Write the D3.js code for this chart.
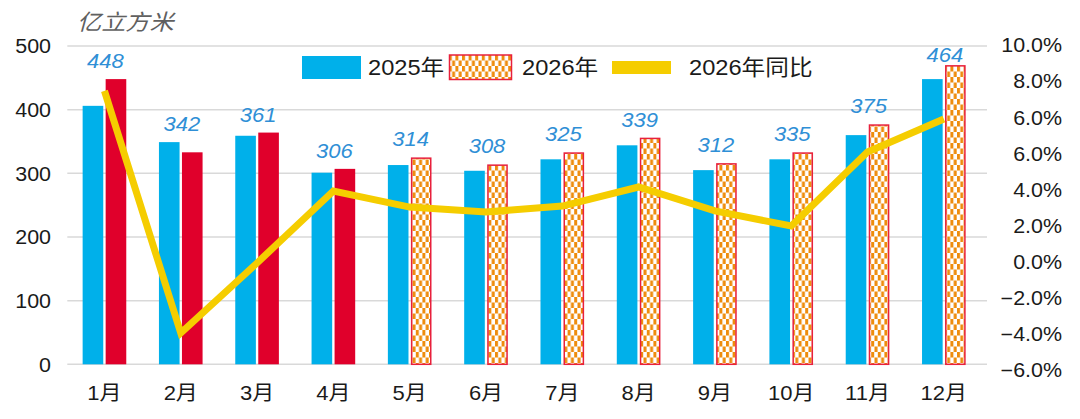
<!DOCTYPE html>
<html>
<head>
<meta charset="utf-8">
<script src="https://cdn.jsdelivr.net/npm/d3@7"></script>
<style>
  html, body { margin: 0; padding: 0; background: #fff; }
  text { font-family: "Liberation Sans", "Noto Sans CJK SC", sans-serif; }
</style>
</head>
<body>
<div id="chart"></div>
<script>
// data
const months = ["1月", "2月", "3月", "4月", "5月", "6月", "7月", "8月", "9月", "10月", "11月", "12月"];
const vol2025 = [406, 349, 359, 301, 313, 304, 322, 344, 305, 322, 360, 448];
const vol2026 = [448, 333, 364, 307, 325, 314, 333, 356, 316, 333, 377, 470];
const actualMonths = 4; // first 4 months solid, the rest hatched (forecast)
const valueLabels = ["448", "342", "361", "306", "314", "308", "325", "339", "312", "335", "375", "464"];
const yoy2026 = [7.74, -4.18, -0.73, 2.81, 2.02, 1.78, 2.07, 3.01, 1.83, 1.09, 4.73, 6.36];
const leftTicks = [0, 100, 200, 300, 400, 500];
const rightTickLabels = ["10.0%", "8.0%", "6.0%", "6.0%", "4.0%", "2.0%", "0.0%", "−2.0%", "−4.0%", "−6.0%"];
const seriesNames = ["2025年", "2026年", "2026年同比"];

const width = 1080, height = 419;
const SX = 1.1; // the source picture is a little stretched sideways

const BLUE = "#00b0ea", RED = "#e0002b", ORANGE = "#ee8c0c", YELLOW = "#f5cd00";

const svg = d3.select("#chart").append("svg")
    .attr("width", width)
    .attr("height", height);

const plotTop = 46, plotBottom = 364.3, plotLeft = 66.3, plotRight = 982;

// scales
const x = d3.scaleBand().domain(months).range([plotLeft, plotRight]);
const xs = d3.scaleBand().domain(["a", "b"]).range([0, x.bandwidth()])
    .paddingInner(0.104).paddingOuter(0.71);
const y = d3.scaleLinear().domain([0, 500]).range([plotBottom, plotTop]);
const y2 = d3.scaleLinear().domain([-6, 10]).range([plotBottom + 5.7, plotTop - 1]);

// pattern for the forecast bars
const defs = svg.append("defs");
const pat = defs.append("pattern")
    .attr("id", "checker")
    .attr("patternUnits", "userSpaceOnUse")
    .attr("width", 6.6).attr("height", 11);
pat.append("rect").attr("width", 6.6).attr("height", 11).attr("fill", "#fff");
pat.append("rect").attr("x", 0).attr("y", 0).attr("width", 3).attr("height", 5.5).attr("fill", ORANGE);
pat.append("rect").attr("x", 3.3).attr("y", 5.5).attr("width", 3).attr("height", 5.5).attr("fill", ORANGE);

// grid
svg.append("g")
    .selectAll("line")
    .data(leftTicks)
    .join("line")
    .attr("x1", plotLeft + 1).attr("x2", plotRight + 5)
    .attr("y1", d => y(d)).attr("y2", d => y(d))
    .attr("stroke", "#d9d9d9")
    .attr("stroke-width", 1.5);

// left axis
const gLeft = svg.append("g")
    .attr("transform", "translate(51,0)")
    .call(d3.axisLeft(y).tickValues(leftTicks).tickSize(0).tickPadding(0));
gLeft.select(".domain").remove();
gLeft.selectAll("text")
    .attr("x", 0).attr("dy", "0.35em")
    .attr("transform", `scale(${SX},1)`)
    .style("font-size", "19.5px")
    .style("font-family", "'Liberation Sans', sans-serif")
    .attr("fill", "#1a1a1a");

// right axis: ten evenly spaced labels
const rightPos = rightTickLabels.map((d, i) => 10 - i * 16 / (rightTickLabels.length - 1));
const gRight = svg.append("g")
    .attr("transform", "translate(1062,0)")
    .call(d3.axisRight(y2).tickValues(rightPos).tickSize(0).tickPadding(0)
        .tickFormat((d, i) => rightTickLabels[i]));
gRight.select(".domain").remove();
gRight.selectAll("text")
    .attr("x", 0).attr("dy", "0.35em")
    .attr("text-anchor", "end")
    .attr("transform", `scale(${SX},1)`)
    .style("font-size", "19.5px")
    .style("font-family", "'Liberation Sans', sans-serif")
    .attr("fill", "#1a1a1a");

// bottom axis
const gBottom = svg.append("g")
    .attr("transform", `translate(0,${plotBottom})`)
    .call(d3.axisBottom(x).tickSize(0).tickPadding(0));
gBottom.select(".domain").remove();
gBottom.selectAll(".tick text")
    .attr("y", 0).attr("dy", 0)
    .attr("transform", `translate(0,36) scale(${SX},1)`)
    .style("font-size", "20px")
    .style("font-family", "'Liberation Sans', 'Noto Sans CJK SC', sans-serif")
    .attr("fill", "#1a1a1a");

// bars
const rows = months.map((m, i) => ({ m, i, a: vol2025[i], b: vol2026[i] }));

svg.append("g")
    .selectAll("rect")
    .data(rows)
    .join("rect")
    .attr("x", d => x(d.m) + xs("a"))
    .attr("y", d => y(d.a))
    .attr("width", xs.bandwidth())
    .attr("height", d => y(0) - y(d.a))
    .attr("fill", BLUE);

svg.append("g")
    .selectAll("rect")
    .data(rows)
    .join("rect")
    .attr("x", d => x(d.m) + xs("b") + (d.i < actualMonths ? 0 : 0.75))
    .attr("y", d => y(d.b) + (d.i < actualMonths ? 0 : 0.75))
    .attr("width", d => xs.bandwidth() - (d.i < actualMonths ? 0 : 1.5))
    .attr("height", d => y(0) - y(d.b) - (d.i < actualMonths ? 0 : 0.75))
    .attr("fill", d => d.i < actualMonths ? RED : "url(#checker)")
    .attr("stroke", d => d.i < actualMonths ? "none" : "#e8203c")
    .attr("stroke-width", 1.5);

// yoy line
const line = d3.line()
    .x((d, i) => x(months[i]) + x.bandwidth() / 2)
    .y(d => y2(d));

svg.append("path")
    .datum(yoy2026)
    .attr("d", line)
    .attr("fill", "none")
    .attr("stroke", YELLOW)
    .attr("stroke-width", 7)
    .attr("stroke-linejoin", "miter")
    .attr("stroke-linecap", "butt");

// value labels, above the taller bar of each month
svg.append("g")
    .selectAll("text")
    .data(rows)
    .join("text")
    .attr("transform", d => {
        const top = Math.min(y(d.b), y(d.a));
        return `translate(${x(d.m) + x.bandwidth() / 2 + 1},${Math.max(top - 11, 62)}) scale(${SX},1)`;
    })
    .attr("text-anchor", "middle")
    .style("font-size", "20px")
    .style("font-style", "italic")
    .attr("fill", "#2f8fd6")
    .text(d => valueLabels[d.i]);

// unit title
svg.append("text")
    .attr("transform", `translate(77,30) scale(${SX},1)`)
    .style("font-size", "22px")
    .style("font-style", "italic")
    .attr("fill", "#606060")
    .text("亿立方米");

// legend
const legend = svg.append("g");
legend.append("rect").attr("x", 302).attr("y", 56).attr("width", 59).attr("height", 23).attr("fill", BLUE);
legend.append("rect").attr("x", 449.5).attr("y", 55).attr("width", 62).attr("height", 24.5)
    .attr("fill", "url(#checker)").attr("stroke", "#e8203c").attr("stroke-width", 1.5);
legend.append("rect").attr("x", 612).attr("y", 61).attr("width", 59).attr("height", 13).attr("fill", YELLOW);

const legendTextX = [368, 522, 689];
legend.selectAll("text")
    .data(seriesNames)
    .join("text")
    .attr("transform", (d, i) => `translate(${legendTextX[i]},75) scale(${SX},1)`)
    .style("font-size", "21.5px")
    .attr("fill", "#1a1a1a")
    .text(d => d);
</script>
</body>
</html>
